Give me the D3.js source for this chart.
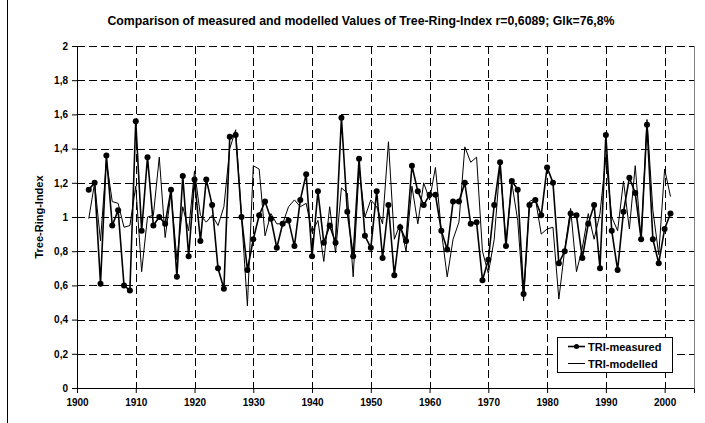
<!DOCTYPE html>
<html>
<head>
<meta charset="utf-8">
<script src="https://cdn.jsdelivr.net/npm/d3@7"></script>
<style>
  body { margin: 0; background: #fff; }
  text { font-family: "Liberation Sans", Arial, sans-serif; font-weight: bold; }
</style>
</head>
<body>
<div id="chart-container"></div>
<script>
// Data
const years = d3.range(1902, 2002);
const measured = [
  1.16, 1.20, 0.61, 1.36, 0.95, 1.04, 0.60, 0.57, 1.56, 0.92,
  1.35, 0.95, 1.00, 0.96, 1.16, 0.65, 1.24, 0.77, 1.22, 0.86,
  1.22, 1.07, 0.70, 0.58, 1.47, 1.48, 1.00, 0.69, 0.87, 1.01,
  1.09, 0.99, 0.82, 0.96, 0.98, 0.83, 1.10, 1.25, 0.77, 1.15,
  0.85, 0.95, 0.85, 1.58, 1.03, 0.77, 1.34, 0.89, 0.82, 1.15,
  0.76, 1.07, 0.66, 0.94, 0.86, 1.30, 1.15, 1.07, 1.13, 1.13,
  0.92, 0.81, 1.09, 1.09, 1.20, 0.96, 0.97, 0.63, 0.75, 1.07,
  1.32, 0.83, 1.21, 1.16, 0.55, 1.07, 1.10, 1.01, 1.29, 1.20,
  0.73, 0.80, 1.02, 1.01, 0.76, 0.96, 1.07, 0.70, 1.48, 0.92,
  0.69, 1.03, 1.23, 1.14, 0.87, 1.54, 0.87, 0.73, 0.93, 1.02
];
const modelled = [
  0.99, 1.20, 0.86, 1.33, 1.09, 1.08, 0.94, 0.95, 1.18, 0.68,
  1.00, 1.01, 1.35, 0.88, 1.14, 0.75, 1.06, 0.92, 1.27, 1.01,
  0.97, 1.01, 0.95, 1.06, 1.40, 1.51, 1.00, 0.48, 1.30, 1.28,
  0.89, 1.02, 0.96, 0.96, 1.06, 1.10, 1.06, 1.08, 0.91, 0.98,
  0.74, 1.06, 0.79, 1.17, 1.14, 0.65, 1.28, 1.00, 1.10, 1.06,
  0.96, 1.44, 0.87, 0.96, 0.80, 1.18, 0.96, 1.20, 1.10, 1.29,
  0.92, 0.65, 0.87, 0.97, 1.41, 1.32, 1.35, 0.80, 0.67, 0.87,
  1.31, 0.85, 1.20, 0.98, 0.51, 1.09, 1.11, 0.90, 0.93, 0.94,
  0.52, 0.81, 1.05, 0.68, 0.82, 1.02, 0.87, 1.02, 1.35, 1.00,
  0.92, 1.21, 0.93, 1.30, 0.86, 1.57, 1.04, 0.78, 1.28, 1.12
];
const xTicks = d3.range(1900, 2001, 10);
const yTicks = d3.range(0, 11).map(i => i * 0.2);
const title = 'Comparison of measured and modelled Values of Tree-Ring-Index r=0,6089; Glk=76,8%';

const W = 705, H = 423;
const margin = { top: 46, right: 11, bottom: 35, left: 77 };
const width = W - margin.left - margin.right;
const height = H - margin.top - margin.bottom;

const root = d3.select('#chart-container')
    .append('svg')
    .attr('width', W)
    .attr('height', H);

// chart area left border
root.append('line')
    .attr('x1', 7.5).attr('x2', 7.5)
    .attr('y1', 0).attr('y2', H)
    .attr('stroke', '#000');

const svg = root.append('g')
    .attr('transform', `translate(${margin.left},${margin.top})`);

const x = d3.scaleLinear().domain([1900, 2005]).range([0, width]);
const y = d3.scaleLinear().domain([0, 2]).range([height, 0]);

const fmt = d => d3.format('.1~f')(d).replace('.', ',');

// grid
svg.append('g')
    .selectAll('line')
    .data(yTicks.slice(1))
    .enter().append('line')
    .attr('x1', 0).attr('x2', width)
    .attr('y1', d => Math.round(y(d)) + 0.5)
    .attr('y2', d => Math.round(y(d)) + 0.5)
    .attr('stroke', '#000')
    .attr('stroke-dasharray', '8,4');

svg.append('g')
    .selectAll('line')
    .data(xTicks.slice(1))
    .enter().append('line')
    .attr('y1', 0).attr('y2', height)
    .attr('x1', d => Math.round(x(d)) + 0.5)
    .attr('x2', d => Math.round(x(d)) + 0.5)
    .attr('stroke', '#000')
    .attr('stroke-dasharray', '8,4');

// right border
svg.append('line')
    .attr('x1', width + 0.5).attr('x2', width + 0.5)
    .attr('y1', 0).attr('y2', height)
    .attr('stroke', '#808080');

// axes
const yAxis = svg.append('g')
    .call(d3.axisLeft(y).tickValues(yTicks).tickFormat(fmt).tickSize(5).tickPadding(4));
const xAxis = svg.append('g')
    .attr('transform', `translate(0,${height})`)
    .call(d3.axisBottom(x).tickValues(xTicks).tickFormat(d3.format('d')).tickSize(5).tickPadding(6));

[yAxis, xAxis].forEach(a => {
  a.selectAll('path, line').attr('stroke', '#000');
  a.selectAll('text')
    .attr('fill', '#000')
    .style('font-size', '10px')
    .style('font-family', '"Liberation Sans", Arial, sans-serif')
    .style('font-weight', 'bold');
});

// modelled line
svg.append('path')
    .datum(years.map((d, i) => [d, modelled[i]]))
    .attr('fill', 'none')
    .attr('stroke', '#000')
    .attr('stroke-width', 1)
    .attr('d', d3.line().x(d => x(d[0])).y(d => y(d[1])));

// measured line
svg.append('path')
    .datum(years.map((d, i) => [d, measured[i]]))
    .attr('fill', 'none')
    .attr('stroke', '#000')
    .attr('stroke-width', 1.6)
    .attr('d', d3.line().x(d => x(d[0])).y(d => y(d[1])));

svg.selectAll('.dot')
    .data(years)
    .enter().append('circle')
    .attr('class', 'dot')
    .attr('cx', d => x(d))
    .attr('cy', (d, i) => y(measured[i]))
    .attr('r', 3)
    .attr('fill', '#000');

// title
root.append('text')
    .attr('x', 361)
    .attr('y', 25)
    .attr('text-anchor', 'middle')
    .style('font-size', '12.3px')
    .text(title);

// y-axis label
root.append('text')
    .attr('transform', 'rotate(-90)')
    .attr('x', -(margin.top + height / 2))
    .attr('y', 43)
    .attr('text-anchor', 'middle')
    .style('font-size', '11px')
    .text('Tree-Ring-Index');

// legend
const lg = root.append('g').attr('transform', 'translate(557,337)');
lg.append('rect')
    .attr('x', 0.5).attr('y', 0.5)
    .attr('width', 115).attr('height', 35)
    .attr('fill', '#fff')
    .attr('stroke', '#000');
lg.append('line')
    .attr('x1', 11).attr('x2', 28).attr('y1', 9.5).attr('y2', 9.5)
    .attr('stroke', '#000').attr('stroke-width', 1.6);
lg.append('circle').attr('cx', 19.5).attr('cy', 9.5).attr('r', 2.5).attr('fill', '#000');
lg.append('line')
    .attr('x1', 11).attr('x2', 28).attr('y1', 26.5).attr('y2', 26.5)
    .attr('stroke', '#000').attr('stroke-width', 1);
lg.append('text').attr('x', 31).attr('y', 13.5).style('font-size', '11px').text('TRI-measured');
lg.append('text').attr('x', 31).attr('y', 30.5).style('font-size', '11px').text('TRI-modelled');
</script>
</body>
</html>
